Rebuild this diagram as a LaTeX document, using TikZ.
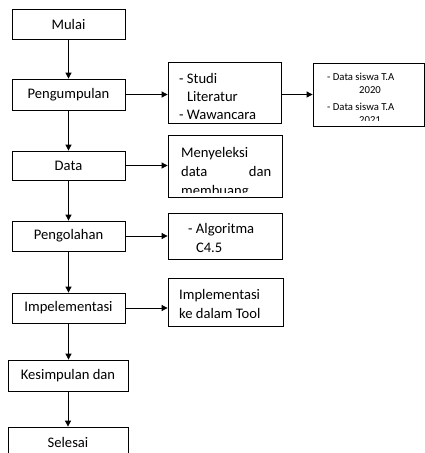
\documentclass[tikz,border=0pt]{standalone}
\usepackage{fontspec}
\setmainfont{Carlito}
\usetikzlibrary{arrows.meta}

\begin{document}
\begin{tikzpicture}[x=1pt,y=-1pt,
  stepbox/.style={draw,line width=0.8pt,minimum width=113pt,minimum height=30pt,inner sep=0pt,font=\fontsize{14.6}{18}\selectfont},
  notebox/.style={draw,line width=0.8pt,inner sep=0pt},
  notetext/.style={anchor=north west,inner sep=0pt,align=left,font=\fontsize{14.6}{19}\selectfont},
  smalltext/.style={anchor=north west,inner sep=0pt,align=left,font=\fontsize{10.7}{13}\selectfont},
  flow/.style={line width=0.8pt,-{Triangle[length=6pt,width=6pt]}}]
\useasboundingbox (0,0) rectangle (425,453);
\node[stepbox] (mulai) at (68.5,24) {Mulai};
\node[stepbox,minimum height=31pt] (kumpul) at (68.5,94.5) {Pengumpulan};
\node[stepbox,minimum height=29pt] (data) at (68.5,165.5) {Data};
\node[stepbox] (olah) at (68.5,236) {Pengolahan};
\node[stepbox] (impl) at (68.5,308) {Impelementasi};
\node[stepbox,minimum width=120pt,minimum height=31pt] (simpul) at (68,375.5) {Kesimpulan dan};
\node[stepbox,minimum width=120pt,minimum height=31pt] (selesai) at (68,442.5) {Selesai};
\node[notebox,minimum width=113pt,minimum height=61pt] (studi) at (224.5,92.5) {};
\node[notetext,font=\fontsize{14.6}{18}\selectfont] (studitxt) at (179,73.3) {- Studi\\\hspace*{7.8pt}Literatur\\- Wawancara};
\node[notebox,minimum width=111pt,minimum height=63pt] (siswa) at (368.5,94.5) {};
\begin{scope}
\clip (siswa.north west) rectangle ([yshift=6pt]siswa.south east);
\node[smalltext] (siswatxt) at (327,72.5) {- Data siswa T.A\\\hspace*{32pt}2020\\[4.5pt]- Data siswa T.A\\\hspace*{32pt}2021};
\end{scope}
\node[notebox,minimum width=114pt,minimum height=62pt] (seleksi) at (225,166) {};
\begin{scope}
\clip (seleksi.north west) rectangle ([yshift=5pt]seleksi.south east);
\node[notetext] (seleksitxt) at (181,147.5) {Menyeleksi\\\makebox[90pt]{data\hfill dan}\\membuang};
\end{scope}
\node[notebox,minimum width=114pt,minimum height=46pt] (algo) at (225,236) {};
\node[notetext] (algotxt) at (188,223.3) {- Algoritma\\\hspace*{7.8pt}C4.5};
\node[notebox,minimum width=115pt,minimum height=48pt] (tool) at (225.5,302) {};
\node[notetext] (tooltxt) at (179,288.8) {Implementasi\\ke dalam Tool};
\draw[flow] (mulai) -- (kumpul);
\draw[flow] (kumpul) -- (data);
\draw[flow] (data) -- (olah);
\draw[flow] (olah) -- (impl);
\draw[flow] (impl) -- (simpul.north -| impl);
\draw[flow] (simpul) -- (selesai.north -| simpul);
\draw[flow] (kumpul.east) -- (kumpul.east -| studi.west);
\draw[flow] (studi.east |- siswa) -- (siswa.west);
\draw[flow] (data.east) -- (data.east -| seleksi.west);
\draw[flow] (olah.east) -- (olah.east -| algo.west);
\draw[flow] (impl.east) -- (impl.east -| tool.west);
\end{tikzpicture}
\end{document}
